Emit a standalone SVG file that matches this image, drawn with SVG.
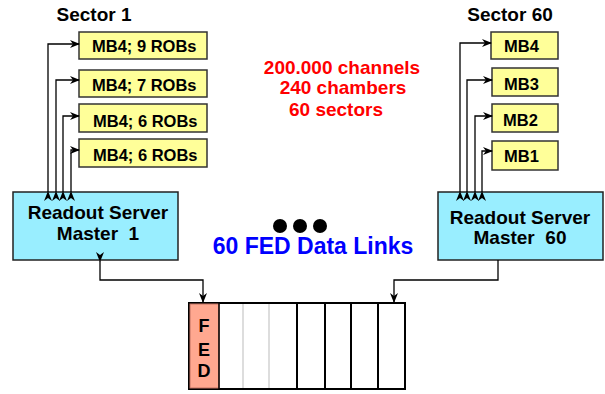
<svg xmlns="http://www.w3.org/2000/svg" width="605" height="394" viewBox="0 0 605 394">
<defs>
<marker id="ah" markerWidth="10" markerHeight="8" refX="9" refY="4" orient="auto" markerUnits="userSpaceOnUse">
<path d="M0,0 L10,4 L0,8 L3,4 Z" fill="#000"/>
</marker>
</defs>
<style>
text{font-family:"Liberation Sans",Arial,sans-serif;font-weight:bold}
.mb{fill:#ffff99;stroke:#333;stroke-width:1.5}
.mbt{font-size:16.5px;fill:#000}
.rs{fill:#99eeff;stroke:#222;stroke-width:1.5}
.rst{font-size:19px;fill:#000;text-anchor:middle}
.ln{fill:none;stroke:#000;stroke-width:1.3}
.hd{font-size:19px;fill:#000;text-anchor:middle}
.red{font-size:19px;fill:#ff0000;text-anchor:middle}
</style>
<rect width="605" height="394" fill="#fff"/>
<text class="hd" x="94" y="21">Sector 1</text>
<text class="hd" x="510" y="21">Sector 60</text>
<g id="stats">
<text class="red" x="342" y="74">200.000 channels</text>
<text class="red" x="343" y="94">240 chambers</text>
<text class="red" x="336" y="116">60 sectors</text>
</g>
<g id="dots">
<circle cx="280" cy="226" r="7" fill="#000"/>
<circle cx="300" cy="226" r="7" fill="#000"/>
<circle cx="320" cy="226" r="7" fill="#000"/>
<text x="313" y="254" font-size="23" fill="#0000ff" text-anchor="middle">60 FED Data Links</text>
</g>
<g id="s1mb1"><rect class="mb" x="79" y="32" width="128" height="27"/><text class="mbt" x="92" y="52">MB4; 9 ROBs</text></g>
<g id="s1mb2"><rect class="mb" x="79" y="70" width="128" height="27"/><text class="mbt" x="92" y="91">MB4; 7 ROBs</text></g>
<g id="s1mb3"><rect class="mb" x="79" y="104" width="128" height="28"/><text class="mbt" x="93" y="127">MB4; 6 ROBs</text></g>
<g id="s1mb4"><rect class="mb" x="79" y="139" width="128" height="28"/><text class="mbt" x="93" y="161">MB4; 6 ROBs</text></g>
<g id="s60mb4"><rect class="mb" x="491" y="32" width="67" height="27"/><text class="mbt" x="504" y="52">MB4</text></g>
<g id="s60mb3"><rect class="mb" x="492" y="68" width="66" height="28"/><text class="mbt" x="504" y="90">MB3</text></g>
<g id="s60mb2"><rect class="mb" x="492" y="104" width="66" height="28"/><text class="mbt" x="503" y="126">MB2</text></g>
<g id="s60mb1"><rect class="mb" x="492" y="141" width="66" height="29"/><text class="mbt" x="504" y="162">MB1</text></g>
<g id="rsm1"><rect class="rs" x="13" y="192" width="165" height="68"/><text class="rst" x="98" y="219">Readout Server</text><text class="rst" x="98" y="240" xml:space="preserve">Master  1</text></g>
<g id="rsm60"><rect class="rs" x="438" y="192" width="165" height="68"/><text class="rst" x="520" y="224">Readout Server</text><text class="rst" x="520" y="244" xml:space="preserve">Master  60</text></g>
<g id="fed">
<rect x="189" y="303" width="216" height="86" fill="#fff" stroke="#000" stroke-width="2"/>
<rect x="190" y="304" width="29" height="84" fill="#ffa890" stroke="#c07060" stroke-width="1"/>
<line x1="243" y1="304" x2="243" y2="388" stroke="#bbb" stroke-width="1"/>
<line x1="269" y1="304" x2="269" y2="388" stroke="#bbb" stroke-width="1"/>
<line x1="297" y1="303" x2="297" y2="389" stroke="#000" stroke-width="2"/>
<line x1="325" y1="303" x2="325" y2="389" stroke="#000" stroke-width="2"/>
<line x1="351" y1="303" x2="351" y2="389" stroke="#000" stroke-width="2"/>
<line x1="378" y1="303" x2="378" y2="389" stroke="#000" stroke-width="2"/>
<line x1="219" y1="303" x2="219" y2="389" stroke="#000" stroke-width="1.5"/>
<text x="204" y="332" font-size="18" text-anchor="middle" fill="#000">F</text>
<text x="204" y="356" font-size="18" text-anchor="middle" fill="#000">E</text>
<text x="204" y="377" font-size="18" text-anchor="middle" fill="#000">D</text>
</g>
<g id="connectors">
<path class="ln" d="M48,192 V44 H79" marker-start="url(#ah)" marker-end="url(#ah)"/>
<path class="ln" d="M56,192 V80 H79" marker-start="url(#ah)" marker-end="url(#ah)"/>
<path class="ln" d="M63,192 V116 H79" marker-start="url(#ah)" marker-end="url(#ah)"/>
<path class="ln" d="M71,192 V150 H79" marker-start="url(#ah)" marker-end="url(#ah)"/>
<path class="ln" d="M460,192 V43 H491" marker-start="url(#ah)" marker-end="url(#ah)"/>
<path class="ln" d="M467,192 V80 H492" marker-start="url(#ah)" marker-end="url(#ah)"/>
<path class="ln" d="M475,192 V116 H492" marker-start="url(#ah)" marker-end="url(#ah)"/>
<path class="ln" d="M482,192 V151 H492" marker-start="url(#ah)" marker-end="url(#ah)"/>
<path class="ln" d="M100,261 V280 H203 V302" marker-start="url(#ah)" marker-end="url(#ah)"/>
<path class="ln" d="M498,260 V280 H394 V302" marker-end="url(#ah)"/>
</g>
</svg>
